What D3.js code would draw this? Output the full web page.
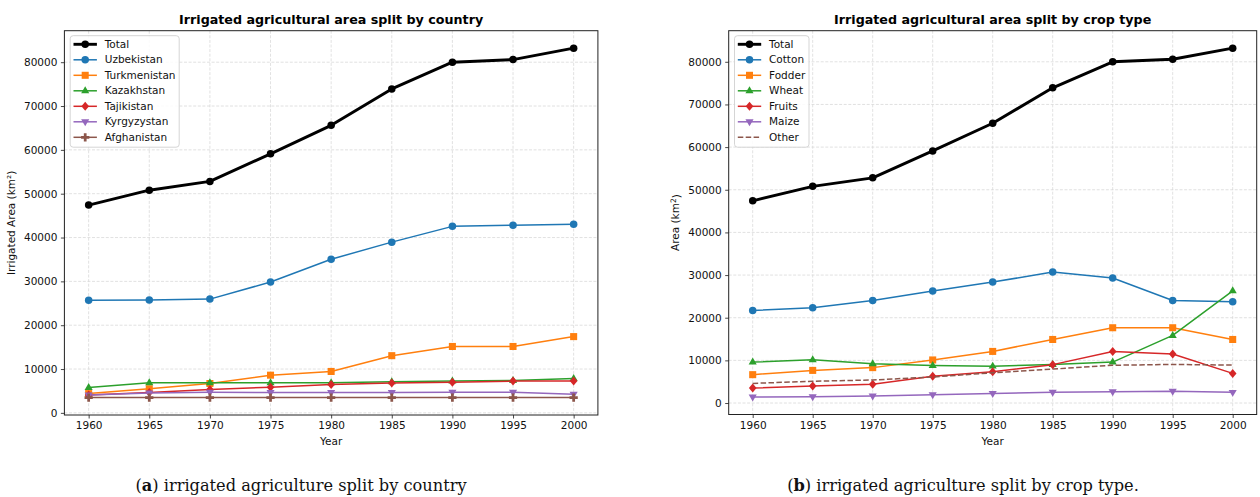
<!DOCTYPE html>
<html>
<head>
<meta charset="utf-8">
<script src="https://cdn.jsdelivr.net/npm/d3@7"></script>
<style>
  html, body { margin: 0; padding: 0; background: #fff; }
  svg { display: block; }
  text { font-family: "DejaVu Sans", sans-serif; }
</style>
</head>
<body>
<svg id="fig" width="1260" height="497"></svg>
<script>
// Irrigated area (km²) in the Aral Sea basin, 1960–2000
const years = [1960, 1965, 1970, 1975, 1980, 1985, 1990, 1995, 2000];
const totalArea = [47400, 50800, 52800, 59100, 65600, 73900, 80000, 80600, 83200];

// by country
const uzbekistan   = [25700, 25750, 25950, 29850, 35050, 38950, 42550, 42800, 43050];
const turkmenistan = [4400, 5500, 6700, 8600, 9450, 13050, 15150, 15150, 17400];
const kazakhstan   = [5800, 6850, 6850, 6850, 6850, 7100, 7250, 7400, 7850];
const tajikistan   = [4050, 4650, 5350, 5850, 6500, 6800, 7000, 7250, 7250];
const kyrgyzystan  = [4100, 4550, 4700, 4650, 4650, 4650, 4700, 4700, 4250];
const afghanistan  = [3500, 3500, 3500, 3500, 3500, 3500, 3500, 3500, 3500];

// by crop type
const cotton = [21700, 22350, 24050, 26250, 28350, 30700, 29300, 24050, 23750];
const fodder = [6650, 7650, 8300, 10100, 12100, 14900, 17650, 17650, 14900];
const wheat  = [9600, 10150, 9200, 8800, 8650, 9050, 9600, 15850, 26300];
const fruits = [3500, 4000, 4400, 6250, 7350, 9000, 12100, 11500, 6950];
const maize  = [1400, 1500, 1650, 1950, 2250, 2550, 2650, 2750, 2500];
const other  = [4600, 5100, 5400, 6100, 7100, 7950, 8850, 9050, 8900];

const yTickValues = [0, 10000, 20000, 30000, 40000, 50000, 60000, 70000, 80000];
const xTickValues = years;

const countrySeries = [
  { name: "Total", values: totalArea, color: "#000000", marker: "circle", width: 2.9 },
  { name: "Uzbekistan", values: uzbekistan, color: "#1f77b4", marker: "circle" },
  { name: "Turkmenistan", values: turkmenistan, color: "#ff7f0e", marker: "square" },
  { name: "Kazakhstan", values: kazakhstan, color: "#2ca02c", marker: "triUp" },
  { name: "Tajikistan", values: tajikistan, color: "#d62728", marker: "diamond" },
  { name: "Kyrgyzystan", values: kyrgyzystan, color: "#9467bd", marker: "triDown" },
  { name: "Afghanistan", values: afghanistan, color: "#8c564b", marker: "plus" }
];

const cropSeries = [
  { name: "Total", values: totalArea, color: "#000000", marker: "circle", width: 2.9 },
  { name: "Cotton", values: cotton, color: "#1f77b4", marker: "circle" },
  { name: "Fodder", values: fodder, color: "#ff7f0e", marker: "square" },
  { name: "Wheat", values: wheat, color: "#2ca02c", marker: "triUp" },
  { name: "Fruits", values: fruits, color: "#d62728", marker: "diamond" },
  { name: "Maize", values: maize, color: "#9467bd", marker: "triDown" },
  { name: "Other", values: other, color: "#8c564b", marker: null, dashed: true }
];

const svg = d3.select("#fig");

// marker path generators, centred on (0,0)
function markerPath(kind, s) {
  const p = d3.path();
  if (kind === "circle") {
    p.arc(0, 0, s * 0.5, 0, 2 * Math.PI);
  } else if (kind === "square") {
    const h = s * 0.47;
    p.rect(-h, -h, 2 * h, 2 * h);
  } else if (kind === "triUp" || kind === "triDown") {
    const r = s * 0.6, d = kind === "triUp" ? -1 : 1;
    p.moveTo(0, d * r);
    p.lineTo(r * 0.9, -d * r * 0.55);
    p.lineTo(-r * 0.9, -d * r * 0.55);
    p.closePath();
  } else if (kind === "diamond") {
    const r = s * 0.6;
    p.moveTo(0, -r); p.lineTo(r * 0.85, 0); p.lineTo(0, r); p.lineTo(-r * 0.85, 0); p.closePath();
  } else if (kind === "plus") {
    const r = s * 0.55, t = r / 3;
    p.moveTo(-t, -r); p.lineTo(t, -r); p.lineTo(t, -t); p.lineTo(r, -t); p.lineTo(r, t);
    p.lineTo(t, t); p.lineTo(t, r); p.lineTo(-t, r); p.lineTo(-t, t); p.lineTo(-r, t);
    p.lineTo(-r, -t); p.lineTo(-t, -t); p.closePath();
  }
  return p.toString();
}

function drawPanel(opts) {
  const { left, right, top, bottom, series, title, ylabel, ylabelX, legendW, caption, captionX } = opts;
  const g = svg.append("g");

  // matplotlib-style autoscale with 5% margins
  const allVals = series.flatMap(s => s.values);
  const vmin = d3.min(allVals), vmax = d3.max(allVals), span = vmax - vmin;
  const x = d3.scaleLinear().domain([1958, 2002]).range([left, right]);
  const y = d3.scaleLinear().domain([vmin - 0.05 * span, vmax + 0.05 * span]).range([bottom, top]);

  // grid
  const grid = g.append("g").attr("stroke", "#d9d9d9").attr("stroke-width", 0.8)
    .attr("stroke-dasharray", "3,1.6");
  xTickValues.forEach(v => grid.append("line")
    .attr("x1", x(v)).attr("x2", x(v)).attr("y1", top).attr("y2", bottom));
  yTickValues.forEach(v => grid.append("line")
    .attr("x1", left).attr("x2", right).attr("y1", y(v)).attr("y2", y(v)));

  // axes
  const xAxis = g.append("g").attr("transform", `translate(0,${bottom})`)
    .call(d3.axisBottom(x).tickValues(xTickValues).tickFormat(d3.format("d")).tickSize(3.5).tickPadding(3.5));
  const yAxis = g.append("g").attr("transform", `translate(${left},0)`)
    .call(d3.axisLeft(y).tickValues(yTickValues).tickFormat(d3.format("d")).tickSize(3.5).tickPadding(3.5));
  [xAxis, yAxis].forEach(a => {
    a.select(".domain").remove();
    a.selectAll(".tick line").attr("stroke", "#333").attr("stroke-width", 0.9);
    a.selectAll(".tick text").attr("fill", "#111").style("font-size", "10.5px")
      .style("font-family", "DejaVu Sans, sans-serif");
  });

  // series
  const line = d3.line().x((d, i) => x(years[i])).y(d => y(d));
  series.forEach(s => {
    const sg = g.append("g");
    sg.append("path").attr("d", line(s.values)).attr("fill", "none")
      .attr("stroke", s.color).attr("stroke-width", s.width || 1.5)
      .attr("stroke-linejoin", "round")
      .attr("stroke-dasharray", s.dashed ? "5.5,2.4" : null);
    if (s.marker) {
      sg.selectAll("path.m").data(s.values).join("path").attr("class", "m")
        .attr("transform", (d, i) => `translate(${x(years[i])},${y(d)})`)
        .attr("d", markerPath(s.marker, 7.5)).attr("fill", s.color);
    }
  });

  // frame
  g.append("rect").attr("x", left).attr("y", top).attr("width", right - left).attr("height", bottom - top)
    .attr("fill", "none").attr("stroke", "#222").attr("stroke-width", 1);

  // title
  g.append("text").attr("x", (left + right) / 2).attr("y", top - 7).attr("text-anchor", "middle")
    .style("font-size", "12.7px").style("font-weight", "bold").text(title);

  // axis labels
  g.append("text").attr("x", (left + right) / 2).attr("y", bottom + 30).attr("text-anchor", "middle")
    .style("font-size", "10.5px").attr("fill", "#111").text("Year");
  const yl = g.append("text").attr("transform", `translate(${ylabelX},${(top + bottom) / 2}) rotate(-90)`)
    .attr("text-anchor", "middle").style("font-size", "10.5px").attr("fill", "#111");
  ylabel(yl);

  // legend
  const lg = g.append("g").attr("transform", `translate(${left + 5.8},${top + 5})`);
  lg.append("rect").attr("width", legendW).attr("height", 111.5).attr("rx", 3)
    .attr("fill", "#fff").attr("fill-opacity", 0.85).attr("stroke", "#d0d0d0").attr("stroke-width", 0.9);
  series.forEach((s, i) => {
    const ry = 8.6 + i * 15.5;
    lg.append("line").attr("x1", 3.3).attr("x2", 26.7).attr("y1", ry).attr("y2", ry)
      .attr("stroke", s.color).attr("stroke-width", s.width || 1.5)
      .attr("stroke-dasharray", s.dashed ? "5.5,2.4" : null);
    if (s.marker) {
      lg.append("path").attr("transform", `translate(15,${ry})`)
        .attr("d", markerPath(s.marker, 7.5)).attr("fill", s.color);
    }
    lg.append("text").attr("x", 34.5).attr("y", ry).attr("dy", "0.35em")
      .style("font-size", "10.5px").attr("fill", "#111").text(s.name);
  });

  // caption
  const cap = g.append("text").attr("x", captionX).attr("y", 491).attr("text-anchor", "middle")
    .style("font-family", "'DejaVu Serif', 'Liberation Serif', serif").style("font-size", "16.2px")
    .attr("fill", "#111");
  cap.append("tspan").text("(");
  cap.append("tspan").style("font-weight", "bold").text(caption[0]);
  cap.append("tspan").text(") " + caption[1]);
}

drawPanel({
  left: 64.4, right: 597.9, top: 30.7, bottom: 415,
  series: countrySeries,
  title: "Irrigated agricultural area split by country",
  ylabel: t => t.text("Irrigated Area (km²)"),
  ylabelX: 15,
  legendW: 109,
  caption: ["a", "irrigated agriculture split by country"],
  captionX: 301
});

drawPanel({
  left: 728.7, right: 1256.7, top: 30.7, bottom: 414.5,
  series: cropSeries,
  title: "Irrigated agricultural area split by crop type",
  ylabel: t => {
    t.append("tspan").text("Area (km");
    t.append("tspan").attr("dy", "-0.45em").style("font-size", "7.5px").text("2");
    t.append("tspan").attr("dy", "0.45em").text(")");
  },
  ylabelX: 679,
  legendW: 74.5,
  caption: ["b", "irrigated agriculture split by crop type."],
  captionX: 963
});
</script>
</body>
</html>
